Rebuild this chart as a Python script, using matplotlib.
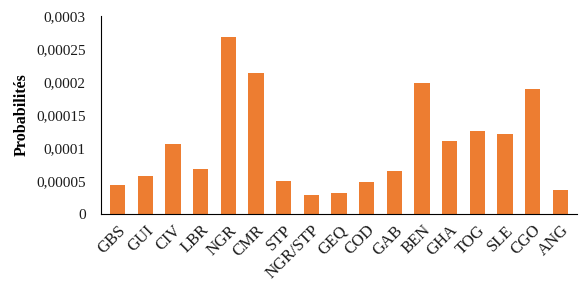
import matplotlib
matplotlib.use("Agg")
import matplotlib.pyplot as plt
from matplotlib.ticker import FuncFormatter, MultipleLocator

countries = ["GBS", "GUI", "CIV", "LBR", "NGR", "CMR", "STP", "NGR/STP", "GEQ",
             "COD", "GAB", "BEN", "GHA", "TOG", "SLE", "CGO", "ANG"]
probs = [0.0000442, 0.0000580, 0.0001066, 0.0000685, 0.000268, 0.000213, 0.0000500,
         0.0000290, 0.0000325, 0.0000490, 0.0000655, 0.000198, 0.000111, 0.000126,
         0.000122, 0.000189, 0.0000366]

plt.rcParams["font.family"] = ["Liberation Serif", "DejaVu Serif"]

fig = plt.figure(figsize=(5.84, 2.83), dpi=100)
ax = fig.add_axes([0.173, 0.244, 0.815, 0.699])

ax.bar(range(len(countries)), probs, width=0.56, color="#ED7D31")

ax.set_xlim(-0.6, len(countries) - 0.4)
ax.set_ylim(0, 0.0003)
ax.yaxis.set_major_locator(MultipleLocator(0.00005))


def comma_fmt(v, pos):
    if abs(v) < 1e-12:
        return "0"
    s = f"{v:.5f}".rstrip("0").rstrip(".")
    return s.replace(".", ",")


ax.yaxis.set_major_formatter(FuncFormatter(comma_fmt))
ax.set_xticks(range(len(countries)))
ax.set_xticklabels(countries, rotation=45, ha="right", rotation_mode="anchor")
ax.tick_params(axis="both", length=0, colors="#1a1a1a")
ax.tick_params(axis="y", labelsize=11, pad=11)
ax.tick_params(axis="x", labelsize=12, pad=6)

for side in ["top", "right"]:
    ax.spines[side].set_visible(False)
ax.spines["left"].set_linewidth(0.8)
ax.spines["bottom"].set_linewidth(0.8)

ax.set_ylabel("Probabilités", fontsize=11.5, fontweight="bold")
ax.yaxis.set_label_coords(-0.15, 0.5)

fig.savefig("out.png", dpi=100)
